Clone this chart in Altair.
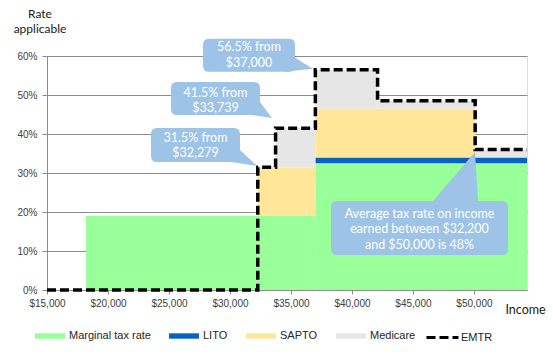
import altair as alt
import pandas as pd

# ---------------- data ----------------
X_MIN, X_MAX = 15000, 54350

series_names = ["Marginal tax rate", "LITO", "SAPTO", "Medicare"]
series_colors = ["#99FF99", "#0563C1", "#FFE699", "#E7E6E6"]

# segments: (start income, end income, bottom rate, top rate)
marginal_start = [18200, 37000]
marginal_end = [37000, 54350]
marginal_bottom = [0.0, 0.0]
marginal_top = [0.19, 0.325]

lito_start = [37000]
lito_end = [54350]
lito_bottom = [0.325]
lito_top = [0.34]

sapto_start = [32279, 37000]
sapto_end = [37000, 50100]
sapto_bottom = [0.19, 0.34]
sapto_top = [0.315, 0.465]

medicare_start = [33739, 37000, 42100, 50100]
medicare_end = [37000, 42100, 50100, 54350]
medicare_bottom = [0.315, 0.465, 0.465, 0.34]
medicare_top = [0.415, 0.565, 0.485, 0.36]

emtr_income = [15000, 32279, 33739, 37000, 42100, 50100, 54350]
emtr_rate = [0.0, 0.315, 0.415, 0.565, 0.485, 0.36, 0.36]

x_ticks = [15000, 20000, 25000, 30000, 35000, 40000, 45000, 50000]
y_ticks = [0, 0.1, 0.2, 0.3, 0.4, 0.5, 0.6]

rows = []
for name, s, e, b, t in [
    ("Marginal tax rate", marginal_start, marginal_end, marginal_bottom, marginal_top),
    ("LITO", lito_start, lito_end, lito_bottom, lito_top),
    ("SAPTO", sapto_start, sapto_end, sapto_bottom, sapto_top),
    ("Medicare", medicare_start, medicare_end, medicare_bottom, medicare_top),
]:
    for i in range(len(s)):
        rows.append({"series": name, "x0": s[i], "x1": e[i], "y0": b[i], "y1": t[i]})
rect_df = pd.DataFrame(rows)
emtr_df = pd.DataFrame({"income": emtr_income, "rate": emtr_rate, "series": "EMTR"})

# callouts: text lines and the tip they point at (income, rate)
callout_text = [
    ["56.5% from", "$37,000"],
    ["41.5% from", "$33,739"],
    ["31.5% from", "$32,279"],
    ["Average tax rate on income", "earned between $32,200", "and $50,000 is 48%"],
]
callout_tip_income = [36807, 33446, 32216, 50088]
callout_tip_rate = [0.567, 0.441, 0.318, 0.354]

# ---------------- styling ----------------
# box geometry in pixels relative to the tip: left, right, top, bottom, tail base points, first-line dy
callout_geom = [
    (-110, -18, -30, 3, (-18, -11), (-28, 3), -21.5),
    (-101, -12, -36, -3, (-12, -16), (-20, -3), -25.5),
    (-106, -17, -38, -4, (-17, -16), (-26, -4), -28),
    (-144, 33, 49, 103, (-42, 49), (3, 49), 62),
]
CALLOUT_FILL = "#9DC3E6"
AX_FONT = "Liberation Sans"
TXT_FONT = "Lato"


def box_path(l, r, t, b, rr=6):
    return (f"M{l+rr},{t}H{r-rr}Q{r},{t} {r},{t+rr}V{b-rr}Q{r},{b} {r-rr},{b}"
            f"H{l+rr}Q{l},{b} {l},{b-rr}V{t+rr}Q{l},{t} {l+rr},{t}Z")


def tail_path(p1, p2):
    return f"M{p1[0]},{p1[1]}L{p2[0]},{p2[1]}L0,0Z"


x_scale = alt.Scale(domain=[X_MIN, X_MAX], nice=False, zero=False)
y_scale = alt.Scale(domain=[0, 0.6], nice=False)

x_axis = alt.Axis(values=x_ticks, format="$,.0f", title="Income", grid=False, ticks=True,
                  tickSize=4, tickColor="#8c8c8c",
                  labelFont=AX_FONT, labelFontSize=10, labelColor="#404040", labelPadding=4,
                  labelFlush=False, labelOverlap=False,
                  domainColor="#8c8c8c", titleFont=TXT_FONT, titleFontSize=12.5,
                  titleFontWeight="normal", titleColor="#1a1a1a", titleX=478, titleY=19,
                  titleAlign="center", titleBaseline="middle")
y_axis = alt.Axis(values=y_ticks, tickCount=7, format=".0%", title=None, grid=True,
                  labelOverlap=False, labelFlush=False,
                  gridColor="#8c8c8c", tickColor="#8c8c8c", tickSize=5, domainColor="#8c8c8c",
                  labelFont=AX_FONT, labelFontSize=10, labelColor="#404040", labelPadding=5)

rects = alt.Chart(rect_df).mark_rect().encode(
    x=alt.X("x0:Q", scale=x_scale, axis=x_axis),
    x2="x1:Q",
    y=alt.Y("y0:Q", scale=y_scale, axis=y_axis),
    y2="y1:Q",
    fill=alt.Fill("series:N", scale=alt.Scale(domain=series_names, range=series_colors),
                  sort=series_names,
                  legend=alt.Legend(orient="none", legendX=-12, legendY=265, direction="horizontal",
                                    title=None, symbolType="M-1,-0.18H1V0.18H-1Z", symbolSize=900,
                                    symbolStrokeWidth=0, labelFont=AX_FONT, labelFontSize=11,
                                    labelColor="#262626", labelOffset=4, columnPadding=18,
                                    padding=0)),
)

line = alt.Chart(emtr_df).mark_line(interpolate="step-after", strokeWidth=3.5, color="black").encode(
    x=alt.X("income:Q"),
    y=alt.Y("rate:Q"),
    strokeDash=alt.StrokeDash("series:N", scale=alt.Scale(domain=["EMTR"], range=[[9, 4]]),
                              legend=alt.Legend(orient="none", legendX=378, legendY=264, title=None,
                                                symbolType="stroke", symbolSize=1024,
                                                symbolStrokeWidth=3, symbolStrokeColor="black",
                                                symbolDash=[9, 4],
                                                labelFont=AX_FONT, labelFontSize=11,
                                                labelColor="#262626", labelOffset=1, padding=0)),
)

layers = [rects, line]

# y-axis title as two centred lines above the axis
title_df = pd.DataFrame({"line": ["Rate", "applicable"], "order": [0, 1]})
for j, word in enumerate(["Rate", "applicable"]):
    layers.append(alt.Chart(title_df.iloc[[j]]).mark_text(
        text=word, font=TXT_FONT, fontSize=12, color="#1a1a1a", align="center", baseline="middle"
    ).encode(x=alt.value(-7), y=alt.value(-42 + 15 * j)))

for i, lines_ in enumerate(callout_text):
    l, r, t, b, p1, p2, dy = callout_geom[i]
    d = pd.DataFrame({"income": [callout_tip_income[i]], "rate": [callout_tip_rate[i]]})
    enc = dict(x=alt.X("income:Q"), y=alt.Y("rate:Q"))
    layers.append(alt.Chart(d).mark_point(shape=box_path(l, r, t, b), size=4, filled=True,
                                          fill=CALLOUT_FILL, opacity=1, strokeWidth=0).encode(**enc))
    layers.append(alt.Chart(d).mark_point(shape=tail_path(p1, p2), size=4, filled=True,
                                          fill=CALLOUT_FILL, opacity=1, strokeWidth=0).encode(**enc))
    layers.append(alt.Chart(d).mark_text(text=lines_, font=TXT_FONT, fontSize=12.5, color="white",
                                         align="center", baseline="middle", lineHeight=15.5,
                                         dx=(l + r) / 2, dy=dy).encode(**enc))

chart = alt.layer(*layers).properties(
    width=480, height=234,
    autosize=alt.AutoSizeParams(type="none"),
    padding={"left": 47, "top": 56, "right": 26, "bottom": 64},
).configure_view(stroke=None).configure(background="white")

chart.save("out.html", embed_options={"renderer": "svg", "actions": False})
